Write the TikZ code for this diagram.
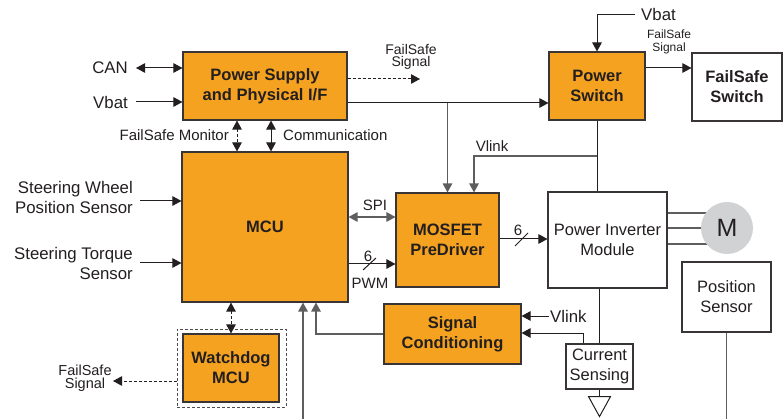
\documentclass[tikz,border=0pt]{standalone}
\usepackage{fontspec}
\setmainfont{Liberation Sans}
\usetikzlibrary{arrows.meta,backgrounds,calc}
\definecolor{orng}{HTML}{F4A21F}
\definecolor{ink}{HTML}{231F20}
\definecolor{gline}{HTML}{5E5E5E}
\definecolor{mgray}{HTML}{D1D2D4}
\begin{document}
\begin{tikzpicture}[x=1pt,y=-1pt,
  obox/.style={draw=ink!90,line width=1.1pt,fill=orng,text=ink,align=center,inner sep=0pt,
    font=\bfseries\fontsize{16.5}{20}\selectfont},
  wbox/.style={draw=ink!90,line width=1.1pt,fill=white,text=ink,align=center,inner sep=0pt,
    font=\fontsize{16.5}{20}\selectfont},
  lbl/.style={inner sep=0pt,text=ink,font=\fontsize{16.8}{20}\selectfont},
  slbl/.style={inner sep=0pt,text=ink,font=\fontsize{15}{18}\selectfont},
  tlbl/.style={inner sep=0pt,text=ink,align=center,font=\fontsize{14}{12.5}\selectfont},
  conn/.style={draw=ink,line width=1pt},
  gconn/.style={draw=gline,line width=1.2pt},
  tip/.style={-{Triangle[length=9pt,width=9.5pt]}},
  dtip/.style={{Triangle[length=9pt,width=9.5pt]}-{Triangle[length=9pt,width=9.5pt]}},
  dsh/.style={dash pattern=on 3pt off 2pt}]
\useasboundingbox (0,0) rectangle (783,419);

% boxes
\node[obox,minimum width=164pt,minimum height=68pt] (ps) at (265,86) {Power Supply\\and Physical I/F};
\node[obox,minimum width=166pt,minimum height=150pt] (mcu) at (265,227) {MCU};
\node[obox,minimum width=96pt,minimum height=68pt] (pwsw) at (597,86) {Power\\Switch};
\node[wbox,font=\bfseries\fontsize{16.5}{20}\selectfont,minimum width=90pt,minimum height=68pt] (fss) at (737,87) {FailSafe\\Switch};
\node[obox,minimum width=103pt,minimum height=94pt] (mos) at (447.5,240) {MOSFET\\PreDriver};
\node[wbox,minimum width=119pt,minimum height=96pt] (inv) at (607.5,240) {Power Inverter\\Module};
\node[circle,fill=mgray,minimum size=52pt,inner sep=0pt,text=ink,font=\fontsize{25}{25}\selectfont] (m) at (727,228) {M};
\node[wbox,minimum width=89pt,minimum height=70pt] (pos) at (726.5,297) {Position\\Sensor};
\node[obox,minimum width=137pt,minimum height=60pt] (sc) at (452.5,334) {Signal\\Conditioning};
\node[wbox,minimum width=67pt,minimum height=45pt] (cs) at (599.5,366.5) {Current\\Sensing};
\node[draw=ink!80,dsh,line width=1pt,minimum width=109pt,minimum height=78pt,inner sep=0pt] (wdo) at (231.5,368) {};
\node[obox,minimum width=96pt,minimum height=68pt] (wd) at (231,368) {Watchdog\\MCU};

% labels
\node[lbl,anchor=east] (can) at (128,68) {CAN};
\node[lbl,anchor=east] (vb1) at (128,102) {Vbat};
\node[slbl,anchor=east] (fsm) at (229,135) {FailSafe Monitor};
\node[slbl,anchor=west] (com) at (283,135) {Communication};
\node[tlbl] (fs1) at (411,57) {FailSafe\\Signal};
\node[lbl,anchor=west] (vb2) at (641,15) {Vbat};
\node[tlbl,font=\fontsize{12}{13}\selectfont] (fs2) at (669,42) {FailSafe\\Signal};
\node[slbl] (vl1) at (492,146) {Vlink};
\node[slbl] (spi) at (375,205) {SPI};
\node[slbl] (n6a) at (368,256) {6};
\node[slbl] (pwm) at (370,283) {PWM};
\node[slbl] (n6b) at (518,230) {6};
\node[lbl,anchor=east,align=right] (swp) at (133,197) {Steering Wheel\\Position Sensor};
\node[lbl,anchor=east,align=right] (stq) at (133,263) {Steering Torque\\Sensor};
\node[tlbl,font=\fontsize{14.5}{13}\selectfont] (fs3) at (85,378) {FailSafe\\Signal};
\node[lbl,anchor=west] (vl2) at (550,316) {Vlink};

\coordinate (fsa) at (420,79);
\coordinate (fsb) at (113,381);
\coordinate (bot) at (303,419);

% connectors
\draw[conn,dtip] ([xshift=8pt]can.east) -- (can.east -| ps.west);
\draw[conn,tip] ([xshift=8pt]vb1.east) -- (vb1.east -| ps.west);
\draw[conn,dsh,dtip] ([xshift=-28pt]ps.south) -- ([xshift=-28pt]mcu.north);
\draw[conn,dtip] ([xshift=6pt]ps.south) -- ([xshift=6pt]mcu.north);
\draw[conn,dsh,tip] (ps.east |- fsa) -- (fsa);
\draw[conn,tip] (ps.east |- 0,103) -- (pwsw.west |- 0,103);
\draw[gconn,tip] (mos.north |- 0,103) -- (mos.north);
\draw[conn,tip] ([xshift=-6pt]vb2.west) -| (pwsw.north);
\draw[conn,tip] (pwsw.east |- 0,68) -- (fss.west |- 0,68);
\draw[conn] (pwsw.south) -- (pwsw.south |- inv.north);
\draw[gconn,tip] (pwsw.south |- 0,156) -| ([xshift=26.5pt]mos.north);
\draw[gconn,dtip] (mcu.east |- 0,217) -- (mos.west |- 0,217);
\draw[conn,tip] (mcu.east |- 0,264) -- (mos.west |- 0,264);
\draw[conn] (363,270) -- (376,258);
\draw[conn,tip] (mos.east |- 0,239) -- (inv.west |- 0,239);
\draw[conn] (515,246) -- (528,233);
\begin{scope}[on background layer]
\draw[gconn] (inv.east |- 0,213) -- (m.center |- 0,213);
\draw[gconn] (inv.east |- 0,228) -- (m.center |- 0,228);
\draw[gconn] (inv.east |- 0,244) -- (m.center |- 0,244);
\end{scope}
\draw[gconn] (pos.south) -- (pos.south |- bot);
\draw[conn] (cs.north |- inv.south) -- (cs.north);
\draw[conn,tip] ([xshift=-16.5pt]cs.north) |- (sc.east |- 0,333);
\draw[conn,tip] ([xshift=-1pt]vl2.west) -- (sc.east |- vl2.west);
\coordinate (g) at ($(cs.south)+(0,7)$);
\draw[conn] (cs.south) -- (g);
\draw[conn,line join=miter] ($(g)+(-11,0)$) -- ($(g)+(11,0)$) -- ($(g)+(0,20)$) -- cycle;
\draw[gconn,tip] (sc.west |- 0,334) -| (mcu.south -| 316,0);
\draw[gconn,tip] (bot) -- (mcu.south -| bot);
\draw[conn,dsh,dtip] (mcu.south -| wd.north) -- (wd.north);
\draw[conn,dsh,tip] (wdo.west |- fsb) -- (fsb);
\draw[conn,tip] ($(swp.east)+(7,4)$) -- (mcu.west |- 0,201);
\draw[conn,tip] ($(stq.east)+(7,0)$) -- (mcu.west |- stq.east);
\end{tikzpicture}
\end{document}
